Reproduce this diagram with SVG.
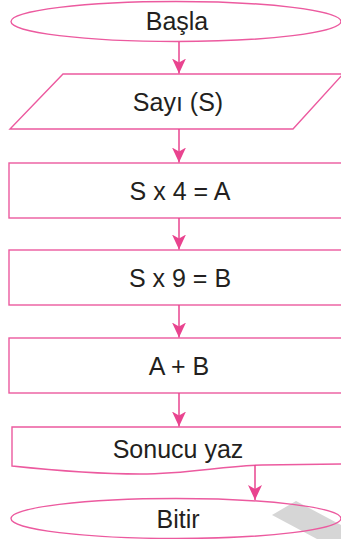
<svg xmlns="http://www.w3.org/2000/svg" width="341" height="539" viewBox="0 0 341 539">
<defs>
<style>
.n{fill:none;stroke:#ec5a9f;stroke-width:1.4}
.t{font-family:"Liberation Sans",Arial,sans-serif;font-size:25px;fill:#231f20;text-anchor:middle}
.c{stroke:#e9448f;stroke-width:1.5;fill:none}
</style>
<marker id="ah" markerUnits="userSpaceOnUse" markerWidth="20" markerHeight="20" refX="15" refY="7" orient="auto" viewBox="0 0 20 14">
<path d="M15,7 L0,0 L4,7 L0,14 z" fill="#e9448f"/>
</marker>
</defs>
<rect width="341" height="539" fill="#fff"/>
<polygon points="272,515 296,501 341,525 341,539 317,539" fill="#d6d6d6"/>
<g id="basla">
<ellipse class="n" cx="176" cy="21.5" rx="165" ry="20"/>
<text class="t" x="177" y="29.5">Başla</text>
</g>
<g id="sayi">
<polygon class="n" points="63,74 343,74 293,129 10,129"/>
<text class="t" x="178" y="110.5">Sayı (S)</text>
</g>
<g id="sx4">
<rect class="n" x="9" y="163" width="340" height="55"/>
<text class="t" x="180" y="200">S x 4 = A</text>
</g>
<g id="sx9">
<rect class="n" x="9" y="250" width="340" height="55"/>
<text class="t" x="180" y="287">S x 9 = B</text>
</g>
<g id="aplusb">
<rect class="n" x="9" y="338" width="340" height="55"/>
<text class="t" x="179" y="375">A + B</text>
</g>
<g id="sonucu">
<path class="n" d="M12,466 V427 H345 V464 L262,465 C220,466 190,474 140,474 C90,474 50,470 12,466 Z"/>
<text class="t" x="178" y="458">Sonucu yaz</text>
</g>
<g id="bitir">
<ellipse class="n" cx="176" cy="518.5" rx="165" ry="20"/>
<text class="t" x="178" y="528">Bitir</text>
</g>
<g id="connectors">
<line class="c" x1="179" y1="42" x2="179" y2="73.5" marker-end="url(#ah)"/>
<line class="c" x1="179" y1="129" x2="179" y2="162.5" marker-end="url(#ah)"/>
<line class="c" x1="179" y1="218" x2="179" y2="249.5" marker-end="url(#ah)"/>
<line class="c" x1="179" y1="305" x2="179" y2="337.5" marker-end="url(#ah)"/>
<line class="c" x1="179" y1="393" x2="179" y2="426.5" marker-end="url(#ah)"/>
<line class="c" x1="255" y1="465" x2="255" y2="500" marker-end="url(#ah)"/>
</g>
</svg>
